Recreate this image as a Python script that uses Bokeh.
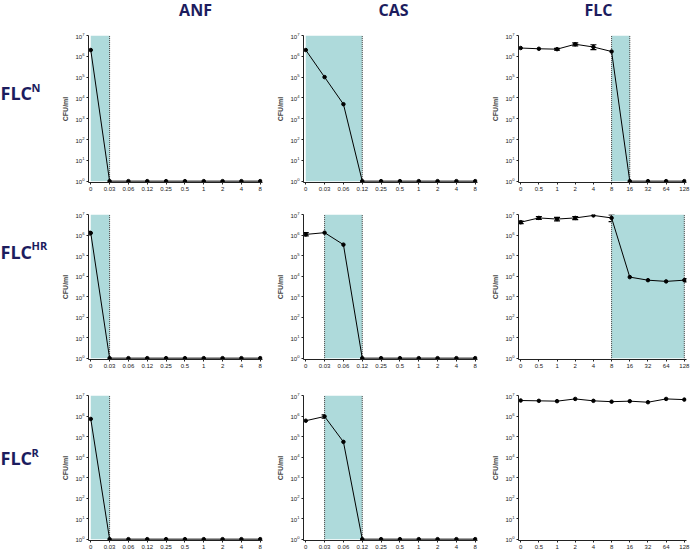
from bokeh.plotting import figure
from bokeh.layouts import column, row
from bokeh.models import ColumnDataSource, Whisker, TeeHead
from bokeh.core.properties import value
from bokeh.embed import file_html
from bokeh.resources import INLINE

# ---------------- data ----------------
ECH_CONC = ["0", "0.03", "0.06", "0.12", "0.25", "0.5", "1", "2", "4", "8"]
FLC_CONC = ["0", "0.5", "1", "2", "4", "8", "16", "32", "64", "128"]

DRUG_TITLES = ["ANF", "CAS", "FLC"]
STRAIN_BASE = ["FLC", "FLC", "FLC"]
STRAIN_SUP = ["N", "HR", "R"]

# CFU/ml (10^0 = no growth)
anf_n = [2.0e6, 1, 1, 1, 1, 1, 1, 1, 1, 1]
cas_n = [2.0e6, 1.0e5, 5.0e3, 1, 1, 1, 1, 1, 1, 1]
flc_n = [2.5e6, 2.3e6, 2.2e6, 3.8e6, 2.8e6, 1.7e6, 1, 1, 1, 1]

anf_hr = [1.25e6, 1, 1, 1, 1, 1, 1, 1, 1, 1]
cas_hr = [1.07e6, 1.3e6, 3.4e5, 1, 1, 1, 1, 1, 1, 1]
flc_hr = [4.2e6, 6.8e6, 6.0e6, 6.8e6, 9.0e6, 6.8e6, 8.9e3, 6.3e3, 5.5e3, 6.3e3]

anf_r = [7.2e5, 1, 1, 1, 1, 1, 1, 1, 1, 1]
cas_r = [5.9e5, 9.5e5, 5.5e4, 1, 1, 1, 1, 1, 1, 1]
flc_r = [5.7e6, 5.5e6, 5.3e6, 6.8e6, 5.5e6, 5.0e6, 5.3e6, 4.7e6, 6.8e6, 6.3e6]

# error bars: index, lower, upper
cas_n_err_idx = [1, 2]
cas_n_err_lo = [8.0e4, 3.8e3]
cas_n_err_hi = [1.25e5, 6.2e3]

flc_n_err_idx = [2, 3, 4]
flc_n_err_lo = [2.0e6, 3.2e6, 2.1e6]
flc_n_err_hi = [2.4e6, 4.4e6, 3.6e6]

anf_hr_err_idx = [0]
anf_hr_err_lo = [1.0e6]
anf_hr_err_hi = [1.5e6]

cas_hr_err_idx = [0, 2]
cas_hr_err_lo = [0.9e6, 2.2e5]
cas_hr_err_hi = [1.3e6, 4.8e5]

flc_hr_err_idx = [0, 1, 2, 3, 5, 6, 8, 9]
flc_hr_err_lo = [3.6e6, 5.8e6, 4.9e6, 5.6e6, 4.5e6, 7.8e3, 4.4e3, 5.2e3]
flc_hr_err_hi = [4.8e6, 7.8e6, 7.2e6, 8.0e6, 9.5e6, 1.0e4, 6.8e3, 7.5e3]

cas_r_err_idx = [1, 2]
cas_r_err_lo = [7.8e5, 4.0e4]
cas_r_err_hi = [1.15e6, 7.0e4]

# shaded concentration windows (start index, end index)
anf_n_shade = (0, 1)
cas_n_shade = (0, 3)
flc_n_shade = (5, 6)
anf_hr_shade = (0, 1)
cas_hr_shade = (1, 3)
flc_hr_shade = (5, 9)
anf_r_shade = (0, 1)
cas_r_shade = (1, 3)
flc_r_shade = None

Y_TICKS = [1, 10, 100, 1e3, 1e4, 1e5, 1e6, 1e7]

# ---------------- styling ----------------
NAVY = "#1c1c5e"
SHADE = "#aedadb"
TICK_FONT = "Liberation Sans"

ROW_H = [176, 176, 171]
ROW_TOP = [7, 10, 15]
ROW_BOT = [22, 21, 11]
COL_W = [215, 215, 204]
COL_LEFT = [30, 30, 30]
COL_RIGHT = [11, 11, 6]
LABEL_W = 58
HEADER_H = 28


def panel(cats, ys, shade, err, r, c):
    p = figure(width=COL_W[c], height=ROW_H[r], y_axis_type="log",
               x_range=(-0.12, 9.12), y_range=(0.86, 1e7),
               output_backend="svg", toolbar_location=None,
               min_border_left=COL_LEFT[c], min_border_right=COL_RIGHT[c],
               min_border_top=ROW_TOP[r], min_border_bottom=ROW_BOT[r])
    p.outline_line_color = None
    p.grid.visible = False
    p.background_fill_color = "white"
    xs = list(range(len(cats)))
    if shade is not None:
        s0, s1 = shade
        p.quad(left=[s0], right=[s1], bottom=[Y_TICKS[0]], top=[Y_TICKS[-1]],
               fill_color=SHADE, line_color=None)
        for b in (s0, s1):
            if b > 0:
                p.segment(x0=[b], y0=[Y_TICKS[0]], x1=[b], y1=[Y_TICKS[-1]],
                          line_color="#333333", line_width=1, line_dash="1 1")
    p.line(xs, ys, line_color="black", line_width=1)
    p.scatter(xs, ys, size=3.5, color="black")
    if err is not None:
        idx, lo, hi = err
        src = ColumnDataSource(dict(x=idx, lo=lo, hi=hi))
        w = Whisker(base="x", lower="lo", upper="hi", source=src,
                    line_color="black", line_width=1.2,
                    upper_head=TeeHead(size=6, line_color="black", line_width=1.2),
                    lower_head=TeeHead(size=6, line_color="black", line_width=1.2))
        p.add_layout(w)

    xa = p.xaxis[0]
    xa.ticker = xs
    xa.major_label_overrides = {i: c_ for i, c_ in enumerate(cats)}
    xa.major_tick_out = 2
    xa.major_tick_in = 0
    xa.minor_tick_line_color = None
    xa.major_label_standoff = 2
    xa.major_label_text_font = TICK_FONT
    xa.major_label_text_font_size = "6px"
    xa.major_label_text_color = "#222222"
    xa.axis_line_color = "#222222"
    xa.major_tick_line_color = "#222222"

    ya = p.yaxis[0]
    ya.ticker = Y_TICKS
    ya.major_tick_out = 2
    ya.major_tick_in = 0
    ya.minor_tick_line_color = None
    ya.major_label_standoff = 2
    ya.major_label_text_font = TICK_FONT
    ya.major_label_text_font_size = "6px"
    ya.major_label_text_color = "#222222"
    ya.axis_line_color = "#222222"
    ya.major_tick_line_color = "#222222"
    ya.axis_label = "CFU/ml"
    ya.axis_label_text_font = TICK_FONT
    ya.axis_label_text_font_style = "bold"
    ya.axis_label_text_font_size = "7px"
    ya.axis_label_standoff = 3
    return p


def label_fig(r, base, sup, ycenter):
    p = figure(width=LABEL_W, height=ROW_H[r], x_range=(0, LABEL_W),
               y_range=(0, ROW_H[r]), output_backend="svg",
               toolbar_location=None, min_border=0)
    p.axis.visible = False
    p.grid.visible = False
    p.outline_line_color = None
    p.text(x=[0], y=[ycenter], text=[base], text_font=value("Open Sans"),
           text_font_style="bold", text_font_size="18px", text_color=NAVY,
           text_baseline="middle", text_align="left")
    p.text(x=[31], y=[ycenter + 7], text=[sup], text_font=value("Open Sans"),
           text_font_style="bold", text_font_size="11px", text_color=NAVY,
           text_baseline="middle", text_align="left")
    return p


TOTAL_W = LABEL_W + sum(COL_W)
header = figure(width=TOTAL_W, height=HEADER_H,
                x_range=(0, TOTAL_W), y_range=(0, HEADER_H),
                output_backend="svg", toolbar_location=None, min_border=0)
header.axis.visible = False
header.grid.visible = False
header.outline_line_color = None
header.text(x=[195, 393, 598], y=[HEADER_H - 9] * 3, text=DRUG_TITLES,
            text_font=value("Open Sans"), text_font_style="bold",
            text_font_size="16px", text_color=NAVY,
            text_baseline="middle", text_align="center")

data = [
    [(ECH_CONC, anf_n, anf_n_shade, None),
     (ECH_CONC, cas_n, cas_n_shade, (cas_n_err_idx, cas_n_err_lo, cas_n_err_hi)),
     (FLC_CONC, flc_n, flc_n_shade, (flc_n_err_idx, flc_n_err_lo, flc_n_err_hi))],
    [(ECH_CONC, anf_hr, anf_hr_shade, (anf_hr_err_idx, anf_hr_err_lo, anf_hr_err_hi)),
     (ECH_CONC, cas_hr, cas_hr_shade, (cas_hr_err_idx, cas_hr_err_lo, cas_hr_err_hi)),
     (FLC_CONC, flc_hr, flc_hr_shade, (flc_hr_err_idx, flc_hr_err_lo, flc_hr_err_hi))],
    [(ECH_CONC, anf_r, anf_r_shade, None),
     (ECH_CONC, cas_r, cas_r_shade, (cas_r_err_idx, cas_r_err_lo, cas_r_err_hi)),
     (FLC_CONC, flc_r, flc_r_shade, None)],
]

LABEL_Y = [107, 131, 97]

rows = [header]
for r in range(3):
    figs = [label_fig(r, STRAIN_BASE[r], STRAIN_SUP[r], LABEL_Y[r])]
    for c in range(3):
        cats, ys, shade, err = data[r][c]
        figs.append(panel(cats, ys, shade, err, r, c))
    rows.append(row(*figs))

layout = column(*rows)
open("out.html", "w").write(file_html(layout, INLINE))
